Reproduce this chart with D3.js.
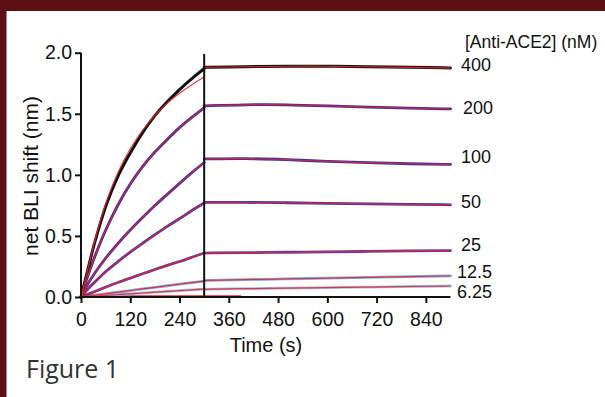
<!DOCTYPE html>
<meta charset="utf-8">
<head>
<style>
    body { margin: 0; background: #fff; }
    svg { display: block; }
    text { font-family: "Liberation Sans", Arial, sans-serif; fill: #111; }
</style>
</head>
<script src="https://cdn.jsdelivr.net/npm/d3@7"></script>

<div id="bliGraph"></div>

<script>
    // association phase (0-300 s) and dissociation phase (300-900 s)
    var assocTime = [0, 15, 30, 45, 60, 90, 120, 150, 180, 210, 240, 270, 300];
    var dissocTime = [300, 400, 500, 600, 700, 800, 900];

    var concLabels = ['400', '200', '100', '50', '25', '12.5', '6.25'];

    var assoc400 = [0, 0.2, 0.41, 0.58, 0.75, 1.0, 1.18, 1.35, 1.49, 1.6, 1.7, 1.79, 1.87];
    var assoc200 = [0, 0.16, 0.3, 0.43, 0.55, 0.76, 0.93, 1.07, 1.19, 1.29, 1.39, 1.47, 1.55];
    var assoc100 = [0, 0.1, 0.18, 0.25, 0.32, 0.44, 0.55, 0.65, 0.75, 0.84, 0.93, 1.02, 1.1];
    var assoc50 = [0, 0.06, 0.11, 0.16, 0.21, 0.29, 0.37, 0.44, 0.51, 0.58, 0.64, 0.71, 0.77];
    var assoc25 = [0, 0.02, 0.04, 0.06, 0.08, 0.12, 0.155, 0.19, 0.225, 0.26, 0.29, 0.325, 0.36];
    var assoc12 = [0, 0.007, 0.014, 0.02, 0.027, 0.04, 0.053, 0.066, 0.079, 0.092, 0.105, 0.118, 0.13];
    var assoc6 = [0, 0.003, 0.007, 0.01, 0.013, 0.02, 0.026, 0.033, 0.039, 0.046, 0.052, 0.059, 0.065];

    var dissoc400 = [1.88, 1.885, 1.89, 1.89, 1.885, 1.88, 1.875];
    var dissoc200 = [1.565, 1.575, 1.575, 1.565, 1.555, 1.545, 1.54];
    var dissoc100 = [1.13, 1.135, 1.125, 1.11, 1.1, 1.09, 1.085];
    var dissoc50 = [0.775, 0.775, 0.772, 0.766, 0.762, 0.758, 0.755];
    var dissoc25 = [0.36, 0.363, 0.366, 0.37, 0.373, 0.377, 0.38];
    var dissoc12 = [0.135, 0.142, 0.148, 0.155, 0.161, 0.167, 0.173];
    var dissoc6 = [0.063, 0.068, 0.072, 0.077, 0.081, 0.086, 0.09];

    // red fit for 400 nM sits a bit off the data
    var fitAssoc400 = [0, 0.2, 0.42, 0.6, 0.77, 1.03, 1.22, 1.37, 1.49, 1.59, 1.67, 1.74, 1.8];
    var baselineTime = [0, 390];
    var baselineVals = [0.008, 0.008];

    var xTicks = [0, 120, 240, 360, 480, 600, 720, 840];
    var yTicks = [0, 0.5, 1.0, 1.5, 2.0];

    var assocSets = [assoc400, assoc200, assoc100, assoc50, assoc25, assoc12, assoc6];
    var dissocSets = [dissoc400, dissoc200, dissoc100, dissoc50, dissoc25, dissoc12, dissoc6];
    var dataColors = ['#111111', '#2b2ba6', '#3131ac', '#3a36ae', '#5a3aa8', '#7fb0e6', '#9cc3ee'];
    var labelX = [461, 463, 461, 461, 461, 457, 457];
    var labelY = [65, 108, 157, 202, 245, 272, 292];

    var width = 605,
        height = 397,
        fitColor = '#e8262a',
        frameColor = '#5b1012';

    var svg = d3.select('#bliGraph').append('svg')
        .attr('width', width)
        .attr('height', height);

    // frame
    svg.append('rect').attr('width', width).attr('height', height).attr('fill', '#fff');
    svg.append('rect').attr('width', width).attr('height', 11).attr('fill', frameColor);
    svg.append('rect').attr('width', 6.5).attr('height', height).attr('fill', frameColor);

    var x = d3.scaleLinear().domain([0, 900]).range([81, 450.5]);
    var y = d3.scaleLinear().domain([0, 2]).range([297, 52.7]);

    var line = d3.line()
        .x(d => x(d[0]))
        .y(d => y(d[1]))
        .curve(d3.curveBasis);

    function pairs(ts, vs) {
        return ts.map((t, i) => [t, vs[i]]);
    }

    var plot = svg.append('g');

    // red baseline near zero
    plot.append('path')
        .attr('d', line(pairs(baselineTime, baselineVals)))
        .attr('fill', 'none')
        .attr('stroke', fitColor)
        .attr('stroke-width', 1.6);

    // measured traces, drawn smallest first so 400 ends up on top
    for (var i = assocSets.length - 1; i >= 0; i--) {
        [pairs(assocTime, assocSets[i]), pairs(dissocTime, dissocSets[i])].forEach(function(pts) {
            plot.append('path')
                .attr('d', line(pts))
                .attr('fill', 'none')
                .attr('stroke', dataColors[i])
                .attr('stroke-width', i === 0 ? 3 : 2.8)
                .attr('stroke-linecap', 'round');
        });
    }

    // fitted curves
    for (var j = assocSets.length - 1; j >= 0; j--) {
        var aFit = j === 0 ? fitAssoc400 : assocSets[j];
        [pairs(assocTime, aFit), pairs(dissocTime, dissocSets[j])].forEach(function(pts) {
            plot.append('path')
                .attr('d', line(pts))
                .attr('fill', 'none')
                .attr('stroke', fitColor)
                .attr('stroke-width', 1.2)
                .attr('stroke-opacity', 0.9);
        });
    }

    // switch from association to dissociation
    plot.append('line')
        .attr('x1', x(300)).attr('x2', x(300))
        .attr('y1', y(1.99)).attr('y2', y(0))
        .attr('stroke', '#111')
        .attr('stroke-width', 2);

    // axes
    var xAxis = svg.append('g')
        .attr('transform', 'translate(0,' + y(0) + ')')
        .call(d3.axisBottom(x).tickValues(xTicks).tickSize(6).tickPadding(9));
    var yAxis = svg.append('g')
        .attr('transform', 'translate(' + x(0) + ',0)')
        .call(d3.axisLeft(y).tickValues(yTicks).tickFormat(d3.format('.1f')).tickSize(6).tickPadding(3));

    [xAxis, yAxis].forEach(function(ax) {
        ax.select('.domain').attr('stroke', '#111').attr('stroke-width', 2);
        ax.selectAll('.tick line').attr('stroke', '#111').attr('stroke-width', 2);
        ax.selectAll('.tick text')
            .style('font-family', '"Liberation Sans", Arial, sans-serif')
            .style('font-size', '19.5px')
            .attr('fill', '#1a1a1a');
    });
    xAxis.select('.domain').attr('d', 'M' + x(0) + ',0H' + x(900));
    yAxis.select('.domain').attr('d', 'M0,' + y(2) + 'V' + y(0));

    svg.append('text')
        .attr('x', 266).attr('y', 352)
        .attr('text-anchor', 'middle')
        .style('font-size', '20px')
        .text('Time (s)');

    svg.append('text')
        .attr('transform', 'translate(38,176) rotate(-90)')
        .attr('text-anchor', 'middle')
        .style('font-size', '21px')
        .text('net BLI shift (nm)');

    svg.append('text')
        .attr('x', 465).attr('y', 48)
        .style('font-size', '17.5px')
        .text('[Anti-ACE2] (nM)');

    // concentration labels at the end of each trace
    svg.selectAll('.conc')
        .data(concLabels)
        .enter().append('text')
        .attr('class', 'conc')
        .attr('x', (d, i) => labelX[i])
        .attr('y', (d, i) => labelY[i])
        .attr('dy', '0.35em')
        .style('font-size', '18px')
        .text(d => d);

    svg.append('text')
        .attr('x', 26).attr('y', 378)
        .style('font-family', '"Open Sans", sans-serif')
        .style('font-size', '25px')
        .style('fill', '#333')
        .text('Figure 1');
</script>
